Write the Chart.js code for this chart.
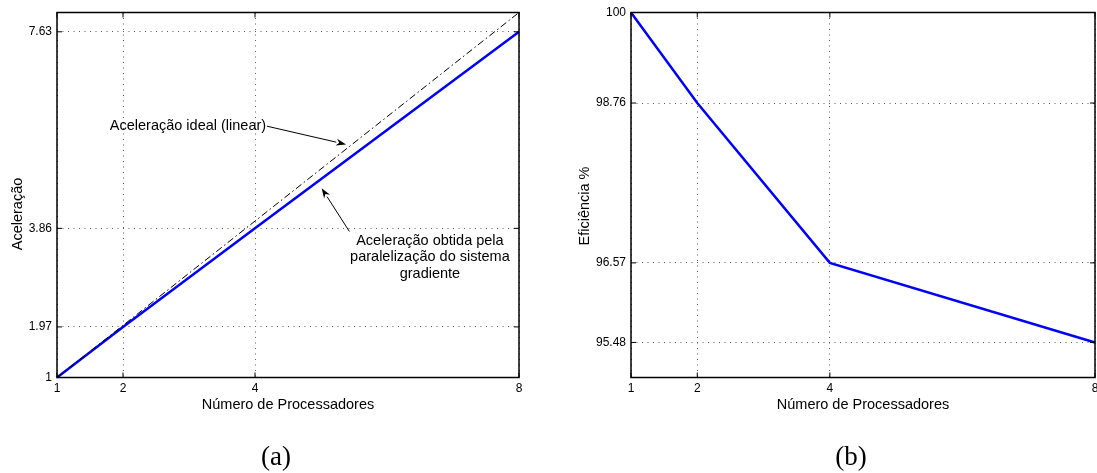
<!DOCTYPE html>
<html>
<head>
<meta charset="utf-8">
<script src="https://cdn.jsdelivr.net/npm/chart.js@4"></script>
<style>
  html, body { margin: 0; padding: 0; background: #fff; width: 1097px; height: 473px; overflow: hidden; }
  canvas { position: absolute; top: 0; }
  #speedup { left: 0; }
  #efficiency { left: 548px; }
</style>
</head>
<body>
<canvas id="speedup" width="548" height="473"></canvas>
<canvas id="efficiency" width="560" height="473"></canvas>
<script>
// Processor counts and measured results
const processors = [1, 2, 4, 8];
const speedupMeasured = [1, 1.97, 3.86, 7.63];
const speedupIdeal = [1, 2, 4, 8];
const efficiencyPct = [100, 98.76, 96.57, 95.48];

// Tick positions shown on the axes
const processorTicks = [1, 2, 4, 8];
const speedupTicks = [1, 1.97, 3.86, 7.63];
const efficiencyTicks = [95.48, 96.57, 98.76, 100];

const SANS = '"Liberation Sans", Arial, Helvetica, sans-serif';
const SERIF = '"Liberation Serif", "Times New Roman", serif';

const points = (xs, ys) => xs.map((x, i) => ({ x, y: ys[i] }));
const fixedTicks = (values) => (scale) => { scale.ticks = values.map(v => ({ value: v })); };

// Box, inward tick marks, axis titles, sub-caption and arrow notes
const framePlugin = {
  id: 'frame',
  afterDraw(chart, args, opts) {
    const { ctx, chartArea: a, scales: { x, y } } = chart;
    const seg = (x1, y1, x2, y2) => { ctx.beginPath(); ctx.moveTo(x1, y1); ctx.lineTo(x2, y2); ctx.stroke(); };
    ctx.save();
    ctx.strokeStyle = '#000';
    ctx.lineWidth = 1;
    const tl = 5;
    x.ticks.forEach(t => {
      const px = x.getPixelForValue(t.value);
      seg(px, a.bottom, px, a.bottom - tl);
      seg(px, a.top, px, a.top + tl);
    });
    y.ticks.forEach(t => {
      const py = y.getPixelForValue(t.value);
      seg(a.left, py, a.left + tl, py);
      seg(a.right, py, a.right - tl, py);
    });
    ctx.lineWidth = 1.5;
    ctx.strokeRect(a.left, a.top, a.right - a.left, a.bottom - a.top);

    ctx.fillStyle = '#000';
    ctx.textAlign = 'center';
    ctx.textBaseline = 'middle';
    ctx.font = '14.5px ' + SANS;
    const cx = (a.left + a.right) / 2;
    ctx.fillText(opts.xTitle, cx, a.bottom + opts.xTitleGap);

    ctx.save();
    ctx.translate(a.left - opts.yTitleGap, (a.top + a.bottom) / 2 + opts.yTitleShift);
    ctx.rotate(-Math.PI / 2);
    ctx.fillText(opts.yTitle, 0, 0);
    ctx.restore();

    ctx.font = '27px ' + SERIF;
    ctx.fillText(opts.caption, cx + opts.captionShift, a.bottom + opts.captionGap);

    // text notes
    ctx.font = '14.5px ' + SANS;
    (opts.notes || []).forEach(n => {
      ctx.textAlign = n.align;
      const px = x.getPixelForValue(n.at[0]);
      const py = y.getPixelForValue(n.at[1]);
      n.lines.forEach((line, i) => ctx.fillText(line, px, py + i * n.lineGap));
    });

    // arrows
    ctx.lineWidth = 1;
    (opts.arrows || []).forEach(ar => {
      const x1 = x.getPixelForValue(ar.from[0]), y1 = y.getPixelForValue(ar.from[1]);
      const x2 = x.getPixelForValue(ar.to[0]), y2 = y.getPixelForValue(ar.to[1]);
      const ang = Math.atan2(y2 - y1, x2 - x1);
      const hl = 10, hw = 3.5;
      const bx = x2 - hl * Math.cos(ang), by = y2 - hl * Math.sin(ang);
      seg(x1, y1, bx, by);
      ctx.beginPath();
      ctx.moveTo(x2, y2);
      ctx.lineTo(bx + hw * Math.sin(ang), by - hw * Math.cos(ang));
      ctx.lineTo(x2 - 0.7 * hl * Math.cos(ang), y2 - 0.7 * hl * Math.sin(ang));
      ctx.lineTo(bx - hw * Math.sin(ang), by + hw * Math.cos(ang));
      ctx.closePath();
      ctx.fill();
    });
    ctx.restore();
  }
};

function axes(yMin, yMax, yTicks, yWidth) {
  const tickFont = { family: SANS, size: 12 };
  return {
    x: {
      type: 'linear', min: 1, max: 8,
      afterBuildTicks: fixedTicks(processorTicks),
      afterFit: s => { s.height = 95.5; },
      ticks: { autoSkip: false, maxRotation: 0, padding: 4, color: '#000', font: tickFont, callback: v => String(v) },
      grid: { color: '#5a5a5a', lineWidth: 1, drawTicks: false },
      border: { display: false, dash: [1, 4.5] }
    },
    y: {
      type: 'linear', min: yMin, max: yMax,
      afterBuildTicks: fixedTicks(yTicks),
      afterFit: s => { s.width = yWidth; },
      ticks: { autoSkip: false, padding: 5, color: '#000', font: tickFont, callback: v => String(v) },
      grid: { color: '#5a5a5a', lineWidth: 1, drawTicks: false },
      border: { display: false, dash: [1, 4.5] }
    }
  };
}

const common = {
  responsive: false,
  animation: false,
  devicePixelRatio: 1,
  events: [],
  elements: { point: { radius: 0 }, line: { tension: 0 } }
};

new Chart(document.getElementById('speedup'), {
  type: 'line',
  data: {
    datasets: [
      { label: 'Aceleração ideal (linear)', data: points(processors, speedupIdeal),
        borderColor: '#000', borderWidth: 1, borderDash: [7, 3, 1.5, 3], clip: 4 },
      { label: 'Aceleração obtida', data: points(processors, speedupMeasured),
        borderColor: '#0000ff', borderWidth: 2.5, clip: 4 }
    ]
  },
  options: {
    ...common,
    layout: { padding: { left: 0, top: 12.5, right: 29, bottom: 0 } },
    scales: axes(1, 8, speedupTicks, 57),
    plugins: {
      legend: { display: false },
      tooltip: { enabled: false },
      frame: {
        xTitle: 'Número de Processadores', xTitleGap: 27,
        yTitle: 'Aceleração', yTitleGap: 39, yTitleShift: 19,
        caption: '(a)', captionShift: -12, captionGap: 80,
        notes: [
          { lines: ['Aceleração ideal (linear)'], at: [1.80, 5.82], align: 'left', lineGap: 0 },
          { lines: ['Aceleração obtida pela', 'paralelização do sistema', 'gradiente'],
            at: [6.65, 3.62], align: 'center', lineGap: 16.5 }
        ],
        arrows: [
          { from: [4.18, 5.82], to: [5.38, 5.47] },
          { from: [5.43, 3.80], to: [5.01, 4.63] }
        ]
      }
    }
  },
  plugins: [framePlugin]
});

new Chart(document.getElementById('efficiency'), {
  type: 'line',
  data: {
    datasets: [
      { label: 'Eficiência', data: points(processors, efficiencyPct),
        borderColor: '#0000ff', borderWidth: 2.5, clip: 4 }
    ]
  },
  options: {
    ...common,
    layout: { padding: { left: 0, top: 12.5, right: 13, bottom: 0 } },
    scales: axes(95, 100, efficiencyTicks, 83),
    plugins: {
      legend: { display: false },
      tooltip: { enabled: false },
      frame: {
        xTitle: 'Número de Processadores', xTitleGap: 27,
        yTitle: 'Eficiência %', yTitleGap: 46, yTitleShift: 11,
        caption: '(b)', captionShift: -12, captionGap: 80
      }
    }
  },
  plugins: [framePlugin]
});
</script>
</body>
</html>
